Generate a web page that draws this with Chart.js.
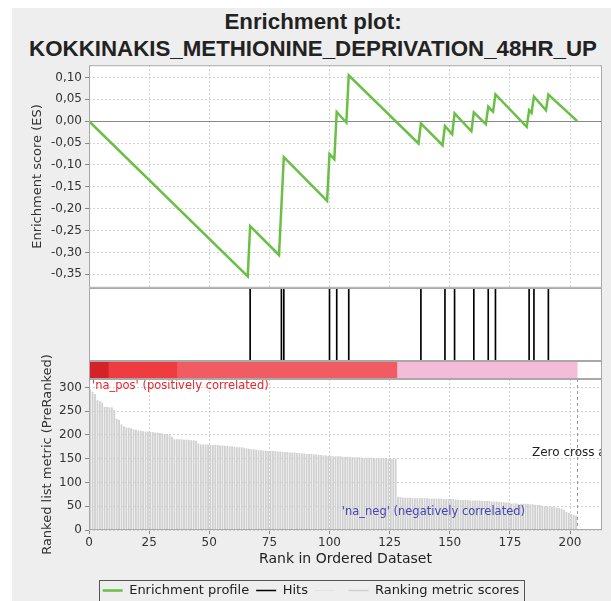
<!DOCTYPE html>
<html>
<head>
<meta charset="utf-8">
<title>Enrichment plot</title>
<script src="https://cdn.jsdelivr.net/npm/chart.js"></script>
<style>
    html, body { margin: 0; padding: 0; width: 611px; height: 601px; overflow: hidden; background: #ffffff; }
    #frame { position: absolute; left: 12px; top: 8px; width: 599px; height: 593px; background: #eeeeee; }
    #title { position: absolute; left: 0; top: 8px; width: 626px; text-align: center;
             font: bold 22.3px 'Liberation Sans', sans-serif; line-height: 27px; color: #222222; }
    canvas { position: absolute; left: 0; }
</style>
</head>
<body>
<div id="frame"></div>
<div id="title">Enrichment plot:<br>KOKKINAKIS_METHIONINE_DEPRIVATION_48HR_UP</div>
<canvas id="esChart" width="611" height="243" style="top:55px"></canvas>
<canvas id="hitsChart" width="611" height="73" style="top:288px"></canvas>
<canvas id="bandChart" width="611" height="18" style="top:361px"></canvas>
<canvas id="metricChart" width="611" height="307" style="top:300px"></canvas>

<script>

// ---- data ----

// running enrichment score, corner points (rank, ES)
const esRank = [0, 66, 67, 79, 81, 99, 100, 102, 103, 107, 108, 137, 138, 147, 148, 151, 152,
    159, 160, 165, 166, 168, 169, 182, 183, 184, 185, 190, 191, 203];
const esScore = [0, -0.355, -0.240, -0.306, -0.082, -0.182, -0.075, -0.087, 0.021, -0.003, 0.105,
    -0.051, -0.005, -0.055, -0.011, -0.030, 0.018, -0.023, 0.020, -0.007, 0.033, 0.022, 0.061,
    -0.013, 0.025, 0.019, 0.056, 0.025, 0.061, 0];

// gene set hits (rank positions)
const hitRanks = [67, 80, 81, 100, 103, 108, 138, 148, 152, 160, 166, 169, 183, 185, 191];

// ranked list metric, one value per rank 0..202
const metricScores = [
    296, 291, 286, 273, 271, 268, 259, 259, 258, 258,
    252, 234, 232, 222, 218, 216, 215, 214, 212, 211,
    209, 209, 208, 207, 207, 206, 206, 205, 205, 204,
    203, 202, 202, 201, 196, 191, 191, 191, 191, 190,
    190, 190, 189, 189, 188, 182, 180, 180, 180, 180,
    179, 179, 179, 179, 178, 178, 177, 177, 176, 176,
    175, 174, 174, 174, 173, 172, 171, 170, 170, 169,
    168, 168, 167, 167, 166, 166, 166, 166, 165, 165,
    164, 164, 164, 163, 163, 163, 162, 162, 161, 161,
    160, 160, 160, 159, 159, 158, 158, 157, 157, 156,
    156, 155, 155, 155, 155, 154, 154, 154, 154, 153,
    153, 153, 153, 152, 152, 152, 152, 152, 151, 151,
    151, 151, 151, 150, 150, 150, 150, 150, 70, 69,
    68, 68, 68, 68, 67, 67, 67, 67, 67, 67,
    67, 66, 66, 66, 66, 66, 66, 65, 65, 65,
    65, 65, 64, 64, 63, 63, 63, 63, 62, 62,
    62, 62, 62, 61, 61, 61, 61, 60, 60, 60,
    59, 59, 58, 58, 58, 56, 56, 56, 55, 55,
    55, 55, 55, 54, 54, 53, 53, 52, 51, 50,
    50, 49, 49, 48, 47, 46, 45, 42, 38, 36,
    34, 32, 30
];

// colour band segments (rank edges)
const bandEdges = [0, 8, 36.5, 128, 203];
const zeroCross = 203;

// axes
const rankTicks = [0, 25, 50, 75, 100, 125, 150, 175, 200];
const esTicks = [0.10, 0.05, 0.00, -0.05, -0.10, -0.15, -0.20, -0.25, -0.30, -0.35];
const metricTicks = [0, 50, 100, 150, 200, 250, 300];
const rankMax = 213.3;
const esMin = -0.381, esMax = 0.128;
const metricMax = 317.7;

// legend entries
const legendNames = ['Enrichment profile', 'Hits', '', 'Ranking metric scores'];

// ---- styles ----
const green = '#6abf45';
const bandColors = ['#d4212a', '#ee3c41', '#f05c61', '#f5bcd8'];
const legendColors = [green, '#000000', '#e4e4e4', '#d0d0d0'];
const legendWidths = [2.5, 1.5, 1, 1.5];
const gridColor = '#d2d2d2';
const frameColor = '#a8a8a8';
const family = "'DejaVu Sans', sans-serif";

Chart.defaults.font.family = family;
Chart.defaults.animation = false;
Chart.defaults.events = [];
Chart.defaults.plugins.tooltip.enabled = false;

function setTicks(values) {
    return function (scale) {
        scale.ticks = values.map(v => ({ value: v }));
    };
}

// white plot background + grey frame
const panelPlugin = {
    id: 'panel',
    beforeDraw(chart) {
        const a = chart.chartArea;
        chart.ctx.save();
        chart.ctx.fillStyle = '#ffffff';
        chart.ctx.fillRect(a.left, a.top, a.right - a.left, a.bottom - a.top);
        chart.ctx.restore();
    },
    afterDraw(chart) {
        const a = chart.chartArea;
        const ctx = chart.ctx;
        ctx.save();
        ctx.strokeStyle = frameColor;
        ctx.lineWidth = 1;
        ctx.strokeRect(a.left + 0.5, a.top + 0.5, a.right - a.left - 1, a.bottom - a.top - 1);
        ctx.restore();
    }
};

// solid line at ES = 0
const zeroLinePlugin = {
    id: 'zeroLine',
    beforeDatasetsDraw(chart) {
        const a = chart.chartArea;
        const y = Math.round(chart.scales.y.getPixelForValue(0)) + 0.5;
        const ctx = chart.ctx;
        ctx.save();
        ctx.strokeStyle = '#888888';
        ctx.lineWidth = 1;
        ctx.beginPath();
        ctx.moveTo(a.left, y);
        ctx.lineTo(a.right, y);
        ctx.stroke();
        ctx.restore();
    }
};

// Enrichment score chart
new Chart(document.getElementById('esChart'), {
    type: 'line',
    data: {
        datasets: [{
            label: 'Enrichment profile',
            data: esRank.map((r, i) => ({ x: r, y: esScore[i] })),
            borderColor: green,
            borderWidth: 2.5,
            pointRadius: 0,
            tension: 0,
            fill: false
        }]
    },
    options: {
        responsive: false,
        layout: { padding: { top: 10, bottom: 10, left: 0, right: 9 } },
        plugins: { legend: { display: false } },
        scales: {
            x: {
                type: 'linear', min: 0, max: rankMax,
                afterBuildTicks: setTicks(rankTicks),
                afterFit: s => { s.height = 0; },
                ticks: { display: false },
                grid: { color: gridColor, drawTicks: false },
                border: { display: false, dash: [2, 2] }
            },
            y: {
                min: esMin, max: esMax,
                afterBuildTicks: setTicks(esTicks),
                afterFit: s => { s.width = 89; },
                ticks: {
                    color: '#333333', padding: 3, font: { size: 12 },
                    callback: v => v.toFixed(2).replace('.', ',')
                },
                grid: { color: gridColor, tickLength: 4, tickColor: '#888888' },
                border: { display: false, dash: [2, 2] },
                title: {
                    display: true, text: 'Enrichment score (ES)', color: '#333333',
                    font: { size: 13 }, padding: { top: 30, bottom: 0 }
                }
            }
        }
    },
    plugins: [panelPlugin, zeroLinePlugin]
});

// Hits
new Chart(document.getElementById('hitsChart'), {
    type: 'bar',
    data: {
        datasets: [{
            label: 'Hits',
            data: hitRanks.map(r => ({ x: r, y: 1 })),
            backgroundColor: '#000000',
            barThickness: 1,
            borderWidth: 0
        }]
    },
    options: {
        responsive: false,
        layout: { padding: { top: 0, bottom: 0, left: 89, right: 9 } },
        plugins: { legend: { display: false } },
        scales: {
            x: { type: 'linear', min: 0, max: rankMax, offset: false, display: false },
            y: { min: 0, max: 1, display: false }
        }
    },
    plugins: [panelPlugin]
});

// Colour band
new Chart(document.getElementById('bandChart'), {
    type: 'bar',
    data: {
        labels: [''],
        datasets: bandColors.map((c, i) => ({
            data: [[bandEdges[i], bandEdges[i + 1]]],
            backgroundColor: c,
            grouped: false,
            barPercentage: 1,
            categoryPercentage: 1,
            borderWidth: 0
        }))
    },
    options: {
        responsive: false,
        indexAxis: 'y',
        layout: { padding: { top: 0, bottom: 0, left: 89, right: 9 } },
        plugins: { legend: { display: false } },
        scales: {
            x: { type: 'linear', min: 0, max: rankMax, offset: false, display: false },
            y: { display: false }
        }
    },
    plugins: [panelPlugin]
});

// zero cross line, texts and legend frame of the metric panel
const metricDecor = {
    id: 'metricDecor',
    beforeDatasetsDraw(chart) {
        const a = chart.chartArea;
        const ctx = chart.ctx;
        const x = Math.round(chart.scales.x.getPixelForValue(zeroCross)) + 0.5;
        ctx.save();
        ctx.strokeStyle = '#999999';
        ctx.setLineDash([3, 3]);
        ctx.beginPath();
        ctx.moveTo(x, a.top);
        ctx.lineTo(x, a.bottom);
        ctx.stroke();
        ctx.restore();
    },
    afterDatasetsDraw(chart) {
        const a = chart.chartArea;
        const ctx = chart.ctx;
        ctx.save();
        ctx.beginPath();
        ctx.rect(a.left, a.top, a.right - a.left, a.bottom - a.top);
        ctx.clip();
        ctx.textBaseline = 'middle';
        ctx.font = '11.5px ' + family;

        ctx.fillStyle = '#e8262c';
        ctx.textAlign = 'left';
        ctx.fillText("'na_pos' (positively correlated)", a.left + 3, a.top + 7);

        ctx.fillStyle = '#4545b5';
        ctx.textAlign = 'right';
        ctx.fillText("'na_neg' (negatively correlated)", a.right - 77, a.bottom - 18);

        ctx.fillStyle = '#222222';
        ctx.textAlign = 'left';
        ctx.font = '12px ' + family;
        ctx.fillText('Zero cross at ' + zeroCross, a.right - 70, a.top + 74);
        ctx.restore();
    },
    afterDraw(chart) {
        const lg = chart.legend;
        const pad = lg.options.labels.padding;
        const rowW = lg.lineWidths[0];
        const x0 = (lg.left + pad + lg.right - rowW) / 2;
        const ctx = chart.ctx;
        ctx.save();
        ctx.strokeStyle = '#555555';
        ctx.lineWidth = 1;
        ctx.strokeRect(Math.round(x0 - 4) + 0.5, Math.round(lg.top + 3) + 0.5,
            Math.round(rowW - pad + 8), 60);
        ctx.restore();
    }
};

// Ranked list metric
new Chart(document.getElementById('metricChart'), {
    type: 'bar',
    data: {
        datasets: [{
            label: 'Ranking metric scores',
            // bar i covers rank i .. i+1
            data: metricScores.map((v, i) => ({ x: i + 0.5, y: v })),
            backgroundColor: '#d0d0d0',
            barPercentage: 0.75,
            categoryPercentage: 1,
            borderWidth: 0
        }]
    },
    options: {
        responsive: false,
        layout: { padding: { top: 79, bottom: 0, left: 20, right: 9 } },
        plugins: {
            legend: {
                position: 'bottom',
                labels: {
                    usePointStyle: true,
                    pointStyleWidth: 20,
                    padding: 7,
                    font: { size: 13 },
                    generateLabels: () => legendNames.map((t, i) => ({
                        text: t,
                        fillStyle: legendColors[i],
                        strokeStyle: legendColors[i],
                        fontColor: '#222222',
                        lineWidth: legendWidths[i],
                        pointStyle: 'line',
                        hidden: false,
                        datasetIndex: 0
                    }))
                }
            }
        },
        scales: {
            x: {
                type: 'linear', min: 0, max: rankMax, offset: false,
                afterBuildTicks: setTicks(rankTicks),
                afterFit: s => { s.height = 47; },
                ticks: { color: '#333333', padding: 2, font: { size: 12 }, maxRotation: 0 },
                grid: { color: gridColor, tickLength: 4, tickColor: '#888888', offset: false },
                border: { display: false, dash: [2, 2] },
                title: {
                    display: true, text: 'Rank in Ordered Dataset', color: '#222222',
                    font: { size: 14 }, padding: { top: 0, bottom: 9 }
                }
            },
            y: {
                min: 0, max: metricMax,
                afterBuildTicks: setTicks(metricTicks),
                afterFit: s => { s.width = 69; },
                ticks: { color: '#333333', padding: 3, font: { size: 12 } },
                grid: { color: gridColor, tickLength: 4, tickColor: '#888888' },
                border: { display: false, dash: [2, 2] },
                title: {
                    display: true, text: 'Ranked list metric (PreRanked)', color: '#333333',
                    font: { size: 13 }, padding: { top: 20, bottom: 0 }
                }
            }
        }
    },
    plugins: [panelPlugin, metricDecor]
});

</script>
</body>
</html>
